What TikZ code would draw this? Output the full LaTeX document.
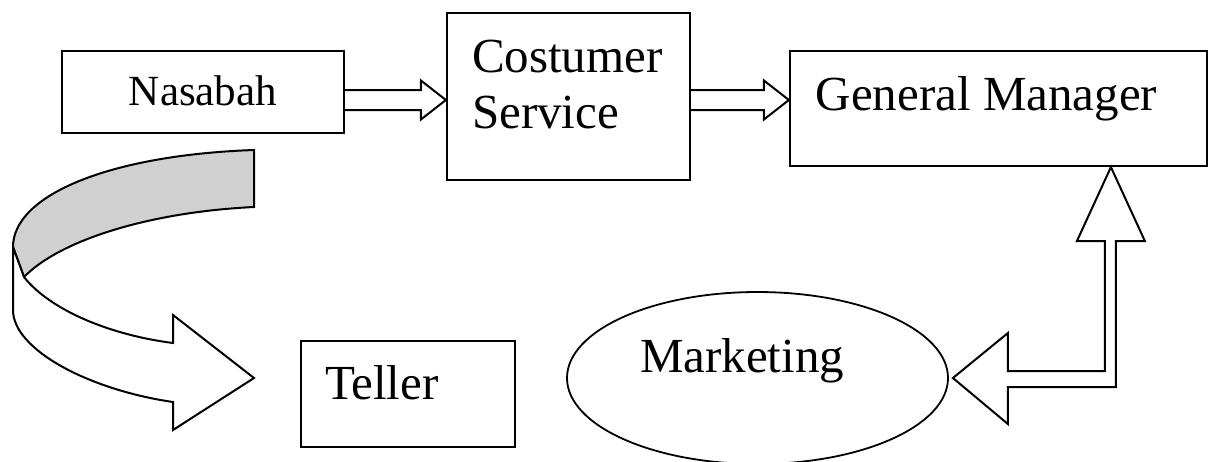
\documentclass[tikz,border=0pt]{standalone}
\usepackage{fontspec}
\setmainfont{Liberation Serif}
\usetikzlibrary{calc,shapes.geometric}
\definecolor{ribbongray}{RGB}{208,208,208}
\begin{document}
\begin{tikzpicture}[x=0.5pt,y=-0.5pt,
  box/.style={draw, line width=1.1pt, inner ysep=0pt},
  bigtext/.style={font=\fontsize{24.5}{28}\selectfont},
  blockarrow/.style={draw, line width=1pt, line join=miter, fill=white},
  ribbon/.style={draw, line width=1pt, line join=miter}]
\useasboundingbox (0,0) rectangle (1209,461);

% nodes
\node[box, minimum width=141pt, minimum height=41pt,
      font=\fontsize{21.5}{24}\selectfont, text height=13pt, text depth=0pt]
      (nas) at (203,92) {Nasabah};
\node[box, bigtext, minimum width=121.5pt, minimum height=83.5pt,
      text width=96.5pt, inner xsep=12.5pt, align=left,
      text height=0pt, text depth=24.5pt]
      (cs) at (568.5,96.5) {Costumer\\Service};
\node[box, bigtext, minimum width=208.5pt, minimum height=57.5pt,
      text height=1.5pt, text depth=0pt]
      (gm) at (998.5,108.5) {General Manager\hspace*{12pt}};
\node[box, bigtext, minimum width=107pt, minimum height=53pt,
      text width=83pt, inner xsep=12pt, align=left,
      text height=5pt, text depth=0pt]
      (tel) at (408,394) {Teller};
\node[ellipse, draw, line width=0.9pt, bigtext, minimum width=190.5pt, minimum height=86pt,
      inner sep=0pt, text width=117.5pt, align=left,
      text height=0pt, text depth=6pt]
      (mkt) at (757.5,378) {Marketing};

% Nasabah -> Costumer Service
\coordinate (a1s) at ($(nas.east |- cs.west)+(0,3.5)$);
\coordinate (a1t) at ($(cs.west)+(0,3.5)$);
\draw[blockarrow] (a1s) ++(0,-10) -- ($(a1t)+(-25,-10)$) -- ($(a1t)+(-25,-19.5)$)
  -- (a1t) -- ($(a1t)+(-25,19.5)$) -- ($(a1t)+(-25,10)$) -- ($(a1s)+(0,10)$);

% Costumer Service -> General Manager
\coordinate (a2s) at ($(cs.east)+(0,3.5)$);
\coordinate (a2t) at ($(gm.west |- cs.west)+(0,3.5)$);
\draw[blockarrow] (a2s) ++(0,-10) -- ($(a2t)+(-25,-10)$) -- ($(a2t)+(-25,-19.5)$)
  -- (a2t) -- ($(a2t)+(-25,19.5)$) -- ($(a2t)+(-25,10)$) -- ($(a2s)+(0,10)$);

% Marketing <-> General Manager (L-shaped double block arrow)
\coordinate (t1) at ($(gm.south west)+(322,0)$);
\coordinate (t2) at ($(mkt.east)+(4,0)$);
\draw[blockarrow] (t1) -- ($(t1)+(34,74)$) -- ($(t1)+(5,74)$)
  -- ($(t1 |- t2)+(5,9)$) -- ($(t2)+(55,9)$) -- ($(t2)+(55,46)$)
  -- (t2) -- ($(t2)+(55,-45)$) -- ($(t2)+(55,-7)$)
  -- ($(t1 |- t2)+(-6,-7)$) -- ($(t1)+(-6,74)$) -- ($(t1)+(-34,74)$) -- cycle;

% curved ribbon arrow (Nasabah -> Teller)
\filldraw[ribbon, fill=ribbongray] (254,150) .. controls (110,155) and (13,195) .. (13,247)
  -- (24,277) .. controls (60,240) and (150,212) .. (254,207) -- cycle;
\filldraw[ribbon, fill=white] (13,247) -- (13,310) .. controls (13,350) and (90,390) .. (173,402)
  -- (173,430) -- (254,378) -- (173,315) -- (173,343)
  .. controls (110,335) and (50,310) .. (24,277) -- cycle;
\end{tikzpicture}
\end{document}
